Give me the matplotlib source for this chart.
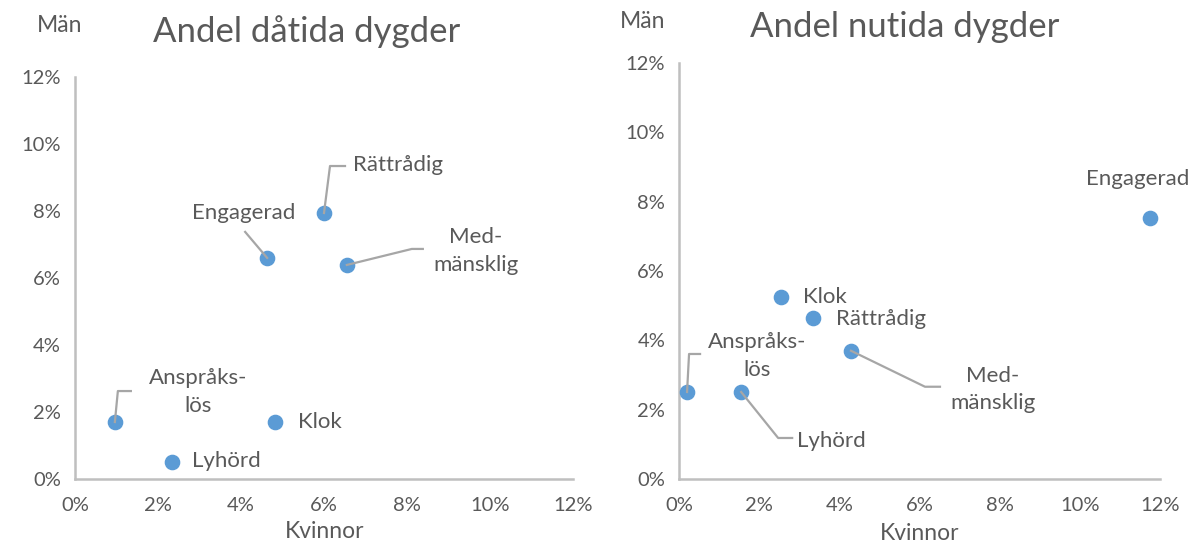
import numpy as np
import matplotlib
matplotlib.use("Agg")
import matplotlib.pyplot as plt
from matplotlib.lines import Line2D
from matplotlib.ticker import PercentFormatter

plt.rcParams['font.family'] = ['Lato', 'DejaVu Sans']

labels = ["Anspråks-\nlös", "Lyhörd", "Klok", "Engagerad", "Rättrådig", "Med-\nmänsklig"]

# dåtida dygder (andel, %)
then_women = [0.96, 2.34, 4.82, 4.63, 6.0, 6.55]
then_men = [1.70, 0.51, 1.70, 6.6, 7.94, 6.39]

# nutida dygder (andel, %)
now_women = [0.2, 1.55, 2.54, 11.75, 3.34, 4.29]
now_men = [2.51, 2.51, 5.26, 7.54, 4.65, 3.70]

ticks = [0, 2, 4, 6, 8, 10, 12]

TXT = '#595959'
AX = '#bfbfbf'
DOT = '#5b9bd5'

# label placement in pixels relative to the dot (dx right, dy down), ha,
# and optional leader line points
then_place = [
    ((83, -30), 'center', [(0, 0), (3, -31), (16, -31)]),
    ((20, -1), 'left', None),
    ((23, 0), 'left', None),
    ((-23, -45), 'center', [(0, 0), (-22, -26)]),
    ((29, -48), 'left', [(0, 0), (6, -47), (21, -47)]),
    ((129, -14), 'center', [(0, 0), (65, -16), (76, -16)]),
]
now_place = [
    ((70, -36), 'center', [(0, 0), (2, -38), (13, -38)]),
    ((56, 49), 'left', [(0, 0), (37, 46), (51, 46)]),
    ((22, 0), 'left', None),
    ((-12, -39), 'center', None),
    ((23, 1), 'left', None),
    ((142, 39), 'center', [(0, 0), (74, 36), (89, 36)]),
]

fig = plt.figure(figsize=(11.89, 5.45), dpi=100)
ax1 = fig.add_axes([0.0631, 0.1211, 0.4188, 0.7376])
ax2 = fig.add_axes([0.5711, 0.1211, 0.4045, 0.7633])


def draw(ax, xs, ys, place, title, men_xy, title_xy, kv_xy):
    ax.set_xlim(0, 12)
    ax.set_ylim(0, 12)
    ax.set_xticks(ticks)
    ax.set_yticks(ticks)
    ax.xaxis.set_major_formatter(PercentFormatter(decimals=0))
    ax.yaxis.set_major_formatter(PercentFormatter(decimals=0))
    for s in ['top', 'right']:
        ax.spines[s].set_visible(False)
    for s in ['left', 'bottom']:
        ax.spines[s].set_color(AX)
        ax.spines[s].set_linewidth(1.8)
    ax.tick_params(length=0, labelsize=14.5, labelcolor=TXT)
    ax.tick_params(axis='x', pad=13)
    ax.tick_params(axis='y', pad=10)
    ax.scatter(xs, ys, s=105, color=DOT, zorder=3, clip_on=False)

    for lab, x, y, (off, ha, lead) in zip(labels, xs, ys, place):
        px, py = ax.transData.transform((x, y))
        if lead:
            lx = [px + p[0] for p in lead]
            ly = [py - p[1] for p in lead]
            fig.add_artist(Line2D(lx, ly, transform=None, color='#a6a6a6', lw=1.6, zorder=2))
        ax.text(px + off[0], py - off[1], lab, transform=None, ha=ha, va='center',
                fontsize=16, color=TXT, linespacing=1.45)

    fig.text(title_xy[0] / 1189, 1 - title_xy[1] / 545, title, ha='center', va='center',
             fontsize=25, color=TXT)
    fig.text(men_xy[0] / 1189, 1 - men_xy[1] / 545, 'Män', ha='center', va='center',
             fontsize=16.5, color=TXT)
    fig.text(kv_xy[0] / 1189, 1 - kv_xy[1] / 545, 'Kvinnor', ha='center', va='center',
             fontsize=16.5, color=TXT)


draw(ax1, then_women, then_men, then_place, 'Andel dåtida dygder', (60, 25), (307, 32), (325, 532))
draw(ax2, now_women, now_men, now_place, 'Andel nutida dygder', (643, 22), (905, 27), (920, 533))

fig.savefig('out.png', dpi=100)
